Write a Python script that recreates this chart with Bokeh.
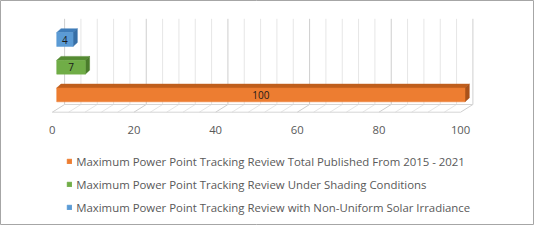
from bokeh.plotting import figure
from bokeh.models import Range1d, ColumnDataSource, Legend, LegendItem
from bokeh.core.properties import value
from bokeh.embed import file_html
from bokeh.resources import INLINE

# ---------------- data ----------------
series = [
    "Maximum Power Point Tracking Review Total Published From 2015 - 2021",
    "Maximum Power Point Tracking Review Under Shading Conditions",
    "Maximum Power Point Tracking Review with Non-Uniform Solar Irradiance",
]
values = [100, 7, 4]
tick_values = [0, 20, 40, 60, 80, 100]
tick_labels = ["0", "20", "40", "60", "80", "100"]
grid_step = 4

# ---------------- style ----------------
front_colors = ["#ED7D31", "#70AD47", "#5B9BD5"]
top_colors = ["#BF5E1C", "#558B32", "#3F7DBA"]
side_colors = ["#A9521A", "#4A7C2B", "#376FA6"]
FONT = "Open Sans"

W, H = 534, 225
K = 4.083      # px per value unit
KY = 27.68     # px per category step
AX0_PX = 51.8  # x of value 0 on the front edge of the floor
CAT0_PY = 94.4 # y (from top) of the first category centre

xs0 = -AX0_PX / K
ye = CAT0_PY / KY


def ypix(py):
    return ye - py / KY


def dxu(px):
    return px / K


def dyu(px):
    return px / KY


BAR_H = 0.5
BAR_OFF = dxu(4.4)
DEP_X = dxu(4.3)
DEP_Y = dyu(3.9)
FLOOR_FRONT = ypix(111.7)
FLOOR_BACK = ypix(104.0)
WALL_TOP = ypix(18.3)
FLOOR_DX = dxu(12.3)

p = figure(width=W, height=H,
           x_range=Range1d(xs0, xs0 + W / K),
           y_range=Range1d(ye - H / KY, ye),
           x_axis_type=None, y_axis_type=None,
           toolbar_location=None, output_backend="svg",
           min_border=0, min_border_left=0, min_border_right=0,
           min_border_top=0, min_border_bottom=0,
           outline_line_color="#A6A6A6", outline_line_width=1,
           background_fill_color="white", border_fill_color="white")

# ---------------- wall and floor grid ----------------
vmax = max(tick_values)
gv = list(range(0, vmax + 1, grid_step))
major = [v % (tick_values[1] - tick_values[0]) == 0 for v in gv]
gcol = ["#CFCFCF" if m else "#E6E6E6" for m in major]

wall = ColumnDataSource(dict(
    x=[v + FLOOR_DX for v in gv],
    y0=[FLOOR_BACK] * len(gv),
    y1=[WALL_TOP] * len(gv),
    c=gcol))
p.segment(x0="x", y0="y0", x1="x", y1="y1", source=wall, line_color="c", line_width=1)

floor = ColumnDataSource(dict(
    x0=gv, y0=[FLOOR_FRONT] * len(gv),
    x1=[v + FLOOR_DX for v in gv], y1=[FLOOR_BACK] * len(gv), c=gcol))
p.segment(x0="x0", y0="y0", x1="x1", y1="y1", source=floor, line_color="c", line_width=1)
p.segment(x0=[0, FLOOR_DX], y0=[FLOOR_FRONT, FLOOR_BACK],
          x1=[vmax, vmax + FLOOR_DX], y1=[FLOOR_FRONT, FLOOR_BACK],
          line_color="#D6D6D6", line_width=1)

# ---------------- 3D bars ----------------
idx = list(range(len(values)))
x0 = [BAR_OFF] * len(values)
x1 = [BAR_OFF + v for v in values]
b0 = [i - BAR_H / 2 for i in idx]
b1 = [i + BAR_H / 2 for i in idx]

tops = ColumnDataSource(dict(
    xs=[[a, b, b + DEP_X, a + DEP_X] for a, b in zip(x0, x1)],
    ys=[[t, t, t + DEP_Y, t + DEP_Y] for t in b1],
    c=top_colors))
p.patches(xs="xs", ys="ys", source=tops, fill_color="c", line_color="c", line_width=0.5)

sides = ColumnDataSource(dict(
    xs=[[b, b, b + DEP_X, b + DEP_X] for b in x1],
    ys=[[lo, hi, hi + DEP_Y, lo + DEP_Y] for lo, hi in zip(b0, b1)],
    c=side_colors))
p.patches(xs="xs", ys="ys", source=sides, fill_color="c", line_color="c", line_width=0.5)

fronts = ColumnDataSource(dict(left=x0, right=x1, bottom=b0, top=b1, c=front_colors))
fr = p.quad(left="left", right="right", bottom="bottom", top="top", source=fronts,
            fill_color="c", line_color="c", line_width=0.5)

lab = ColumnDataSource(dict(x=[(a + b) / 2 for a, b in zip(x0, x1)], y=idx,
                            t=[str(v) for v in values]))
p.text(x="x", y="y", text="t", source=lab, text_align="center", text_baseline="middle",
       text_font=value(FONT), text_font_size="10px", text_color="#1A1A1A")

# ---------------- value axis labels ----------------
tk = ColumnDataSource(dict(x=tick_values, y=[ypix(129)] * len(tick_values), t=tick_labels))
p.text(x="x", y="y", text="t", source=tk, text_align="center", text_baseline="middle",
       text_font=value(FONT), text_font_size="11.3px", text_color="#595959")

# ---------------- legend ----------------
items = [LegendItem(label=s, renderers=[fr], index=i) for i, s in enumerate(series)]
legend = Legend(items=items, location=(66.2, 10.5), orientation="vertical",
                glyph_width=6, glyph_height=6, label_standoff=4,
                label_text_font=FONT, label_text_font_size="11.4px",
                label_text_color="#595959", spacing=8, padding=0, margin=0,
                border_line_color=None, background_fill_color=None)
p.add_layout(legend)

open("out.html", "w").write(file_html(p, INLINE))
